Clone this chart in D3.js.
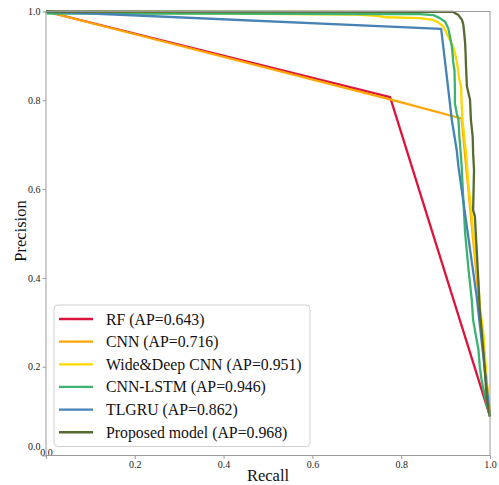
<!DOCTYPE html>
<html><head><meta charset="utf-8">
<script src="https://cdn.jsdelivr.net/npm/d3@7"></script>
<style>
html,body{margin:0;padding:0;background:#fff;}
svg{display:block;}
</style></head>
<body>
<div id="chart"></div>
<script>
// ---- data ----
const xTicks = [0.0, 0.2, 0.4, 0.6, 0.8, 1.0];
const yTicks = [0.0, 0.2, 0.4, 0.6, 0.8, 1.0];
const seriesNames = ["RF (AP=0.643)", "CNN (AP=0.716)", "Wide&Deep CNN (AP=0.951)",
                     "CNN-LSTM (AP=0.946)", "TLGRU (AP=0.862)", "Proposed model (AP=0.968)"];
const seriesColors = ["#DC143C", "#FFA500", "#FFD700", "#3CB371", "#4682B4", "#556B2F"];

const rfRecall    = [0, 0.775, 1.0];
const rfPrecision = [1, 0.807, 0.088];

const cnnRecall    = [0, 0.775, 0.936, 1.0];
const cnnPrecision = [1, 0.802, 0.759, 0.088];

const wdRecall    = [0, 0.01, 0.30, 0.55, 0.70, 0.745, 0.768, 0.842, 0.872, 0.884, 0.895, 0.906, 0.917, 0.923, 0.927, 0.931, 0.935, 0.936, 0.938, 0.942, 0.946, 0.949, 0.951, 0.959, 0.966, 0.974, 0.977, 0.985, 0.993, 1.0];
const wdPrecision = [1, 0.997, 0.996, 0.994, 0.993, 0.990, 0.987, 0.985, 0.981, 0.975, 0.966, 0.943, 0.921, 0.898, 0.876, 0.846, 0.831, 0.793, 0.756, 0.718, 0.681, 0.643, 0.614, 0.538, 0.463, 0.389, 0.335, 0.276, 0.163, 0.088];

const lstmRecall    = [0, 0.005, 0.40, 0.70, 0.842, 0.872, 0.887, 0.899, 0.906, 0.910, 0.914, 0.916, 0.917, 0.920, 0.921, 0.921, 0.925, 0.929, 0.931, 0.934, 0.936, 0.940, 0.944, 0.951, 0.959, 0.962, 0.970, 0.974, 0.977, 0.981, 0.989, 0.996, 1.0];
const lstmPrecision = [1, 0.995, 0.995, 0.994, 0.994, 0.992, 0.985, 0.977, 0.962, 0.943, 0.921, 0.902, 0.887, 0.868, 0.823, 0.793, 0.771, 0.756, 0.718, 0.681, 0.654, 0.575, 0.501, 0.425, 0.350, 0.305, 0.260, 0.238, 0.200, 0.170, 0.132, 0.102, 0.088];

const tlgruRecall    = [0, 0.890, 0.901, 0.914, 0.925, 0.929, 0.970, 1.0];
const tlgruPrecision = [1, 0.961, 0.868, 0.756, 0.688, 0.650, 0.358, 0.088];

const propRecall    = [0, 0.917, 0.929, 0.937, 0.940, 0.942, 0.944, 0.945, 0.946, 0.948, 0.955, 0.957, 0.961, 0.962, 0.964, 0.962, 0.966, 0.970, 0.974, 0.977, 0.985, 0.993, 1.0];
const propPrecision = [1, 0.999, 0.992, 0.981, 0.970, 0.951, 0.928, 0.906, 0.876, 0.831, 0.801, 0.756, 0.718, 0.681, 0.643, 0.553, 0.538, 0.463, 0.389, 0.328, 0.238, 0.125, 0.088];

const seriesRecall = [rfRecall, cnnRecall, wdRecall, lstmRecall, tlgruRecall, propRecall];
const seriesPrecision = [rfPrecision, cnnPrecision, wdPrecision, lstmPrecision, tlgruPrecision, propPrecision];

// ---- layout ----
const W = 499, H = 485;
const mLeft = 46, mRight = 490, mTop = 11.5, mBottom = 455.5;
const font = '"Liberation Serif"';
const axisGray = "#9a9a9a";

const svg = d3.select("#chart").append("svg").attr("width", W).attr("height", H);

const x = d3.scaleLinear().domain([0, 1]).range([mLeft, mRight]);
const y = d3.scaleLinear().domain([0, 1]).range([mBottom, mTop]);

// axes
const xAxis = svg.append("g").attr("transform", `translate(0,${mBottom})`)
  .call(d3.axisBottom(x).tickValues(xTicks).tickFormat(d3.format(".1f")).tickSizeOuter(0).tickSize(3.5).tickPadding(2));
const yAxis = svg.append("g").attr("transform", `translate(${mLeft},0)`)
  .call(d3.axisLeft(y).tickValues(yTicks).tickFormat(d3.format(".1f")).tickSizeOuter(0).tickSize(3.5).tickPadding(2));
[xAxis, yAxis].forEach(g => {
  g.select(".domain").remove();
  g.selectAll(".tick line").attr("stroke", axisGray);
  g.selectAll(".tick text").attr("fill", "#222")
    .style("font-family", font).style("font-size", "10px");
});
// zero labels sit slightly higher in the reference
xAxis.selectAll(".tick text").filter(d => d === 0).attr("dy", "-0.55em");
yAxis.selectAll(".tick text").filter(d => d === 0).attr("dy", "-0.6em");

// lines
const line = d3.line().x(d => x(d[0])).y(d => y(d[1]));
seriesNames.forEach((name, i) => {
  const pts = seriesRecall[i].map((r, j) => [r, seriesPrecision[i][j]]);
  svg.append("path").datum(pts).attr("d", line)
    .attr("fill", "none").attr("stroke", seriesColors[i])
    .attr("stroke-width", 2.3).attr("stroke-linejoin", "round");
});

// spines
svg.append("rect").attr("x", mLeft).attr("y", mTop).attr("width", mRight - mLeft).attr("height", mBottom - mTop)
  .attr("fill", "none").attr("stroke", axisGray).attr("stroke-width", 1);

// axis labels
svg.append("text").attr("x", (mLeft + mRight) / 2).attr("y", 481).attr("text-anchor", "middle")
  .style("font-family", font).style("font-size", "16.5px").attr("fill", "#111").text("Recall");
svg.append("text").attr("transform", "translate(26,231) rotate(-90)").attr("text-anchor", "middle")
  .style("font-family", font).style("font-size", "16.5px").attr("fill", "#111").text("Precision");

// legend
const lg = svg.append("g");
lg.append("rect").attr("x", 54).attr("y", 305).attr("width", 256).attr("height", 141.5)
  .attr("rx", 4).attr("fill", "#fff").attr("fill-opacity", 0.85).attr("stroke", "#d0d0d0");
seriesNames.forEach((name, i) => {
  const cy = 319 + i * 22.65;
  lg.append("line").attr("x1", 59).attr("x2", 93).attr("y1", cy).attr("y2", cy)
    .attr("stroke", seriesColors[i]).attr("stroke-width", 2.3);
  lg.append("text").attr("x", 106).attr("y", cy + 5.5)
    .style("font-family", font).style("font-size", "15.8px")
    .attr("fill", "#111").text(name);
});
</script>
</body></html>
